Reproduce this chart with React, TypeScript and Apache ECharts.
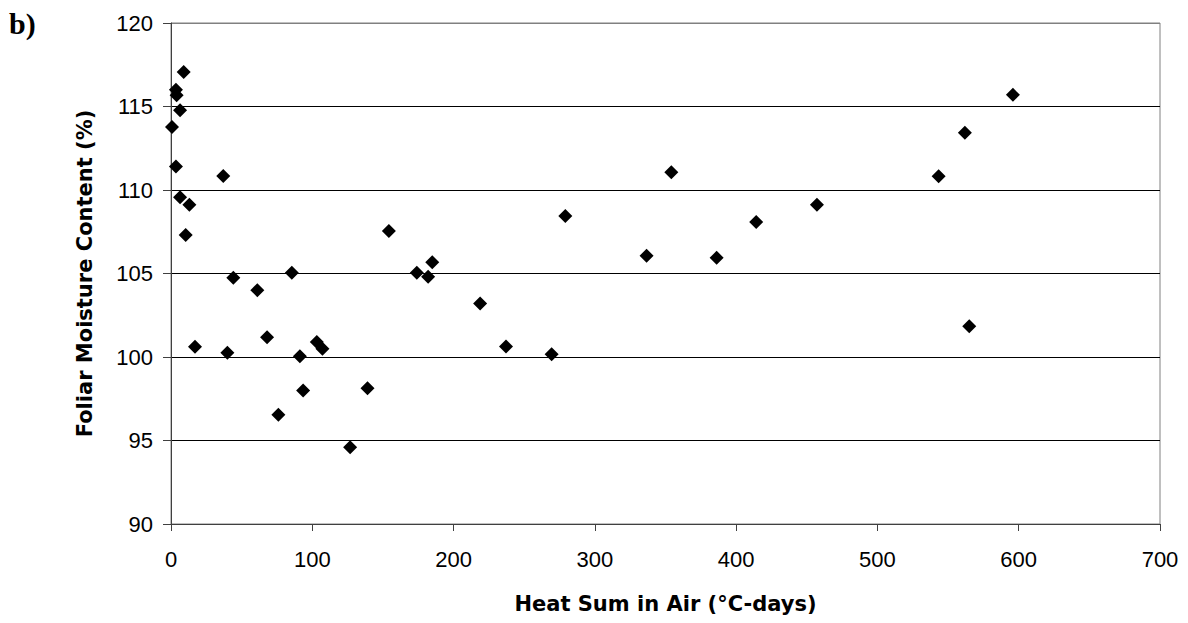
import React, { useEffect, useRef } from "react";
import * as echarts from "echarts";

const heatSum = [
  0.7, 3.5, 4.0, 9.0, 6.4, 3.5, 6.4, 13.0, 10.4, 17.0,
  37.0, 39.9, 44.1, 61.1, 68.0, 76.0, 85.5, 91.2, 93.5, 103.2,
  107.2, 126.8, 139.1, 154.2, 174.0, 182.0, 184.9, 218.8, 237.1, 269.4,
  279.1, 336.6, 354.1, 386.2, 414.2, 457.2, 543.3, 561.9, 565.0, 595.9,
];
const moisture = [
  113.77, 116.0, 115.67, 117.06, 114.78, 111.4, 109.57, 109.11, 107.3, 100.62,
  110.84, 100.26, 104.74, 104.0, 101.18, 96.54, 105.04, 100.04, 98.0, 100.9,
  100.5, 94.59, 98.13, 107.54, 105.04, 104.8, 105.67, 103.21, 100.63, 100.17,
  108.45, 106.06, 111.06, 105.94, 108.09, 109.11, 110.82, 113.43, 101.84, 115.7,
];

const xTitle = "Heat Sum in Air (°C-days)";
const yTitle = "Foliar Moisture Content (%)";
const panelLabel = "b)";

const FONT = "'Liberation Sans', Arial, sans-serif";
const TITLE_FONT = "'DejaVu Sans', 'Liberation Sans', sans-serif";

export default function App() {
  const ref = useRef<HTMLDivElement>(null);
  useEffect(() => {
    if (!ref.current) return;
    const chart = echarts.init(ref.current, null, { renderer: "svg" });
    const data = heatSum.map((x, i) => [x, moisture[i]]);
    chart.setOption({
      animation: false,
      backgroundColor: "#ffffff",
      grid: {
        left: 171,
        right: 28,
        top: 23,
        bottom: 99,
        show: true,
        borderColor: "#808080",
        borderWidth: 1,
        backgroundColor: "transparent",
      },
      graphic: [
        {
          type: "text",
          left: 9,
          top: 8,
          style: {
            text: panelLabel,
            font: "bold 30px 'Liberation Serif', 'Times New Roman', serif",
            fill: "#000",
          },
        },
      ],
      xAxis: {
        type: "value",
        min: 0,
        max: 700,
        interval: 100,
        name: xTitle,
        nameLocation: "middle",
        nameGap: 69,
        nameTextStyle: {
          fontFamily: TITLE_FONT,
          fontWeight: "bold",
          fontSize: 21,
          color: "#000",
          verticalAlign: "top",
        },
        axisLine: { show: true, lineStyle: { color: "#404040", width: 1 } },
        axisTick: { show: true, inside: false, length: 7, lineStyle: { color: "#404040" } },
        axisLabel: { fontFamily: FONT, fontSize: 22, color: "#000", margin: 24 },
        splitLine: { show: false },
      },
      yAxis: {
        type: "value",
        min: 90,
        max: 120,
        interval: 5,
        name: yTitle,
        nameLocation: "middle",
        nameGap: 76,
        nameRotate: 90,
        nameTextStyle: {
          fontFamily: TITLE_FONT,
          fontWeight: "bold",
          fontSize: 21,
          color: "#000",
        },
        axisLine: { show: true, lineStyle: { color: "#404040", width: 1 } },
        axisTick: { show: true, inside: false, length: 8, lineStyle: { color: "#404040" } },
        axisLabel: { fontFamily: FONT, fontSize: 22, color: "#000", margin: 18 },
        splitLine: {
          show: true,
          lineStyle: {
            color: ["#000", "#000", "#000", "#000", "#000", "#000", "#808080"],
            width: 1,
          },
        },
      },
      series: [
        {
          type: "scatter",
          data,
          symbol: "diamond",
          symbolSize: 14,
          itemStyle: { color: "#000", opacity: 1 },
        },
      ],
    });
    return () => chart.dispose();
  }, []);
  return (
    <div
      ref={ref}
      style={{ position: "fixed", left: 0, top: 0, width: 1188, height: 623 }}
    />
  );
}
